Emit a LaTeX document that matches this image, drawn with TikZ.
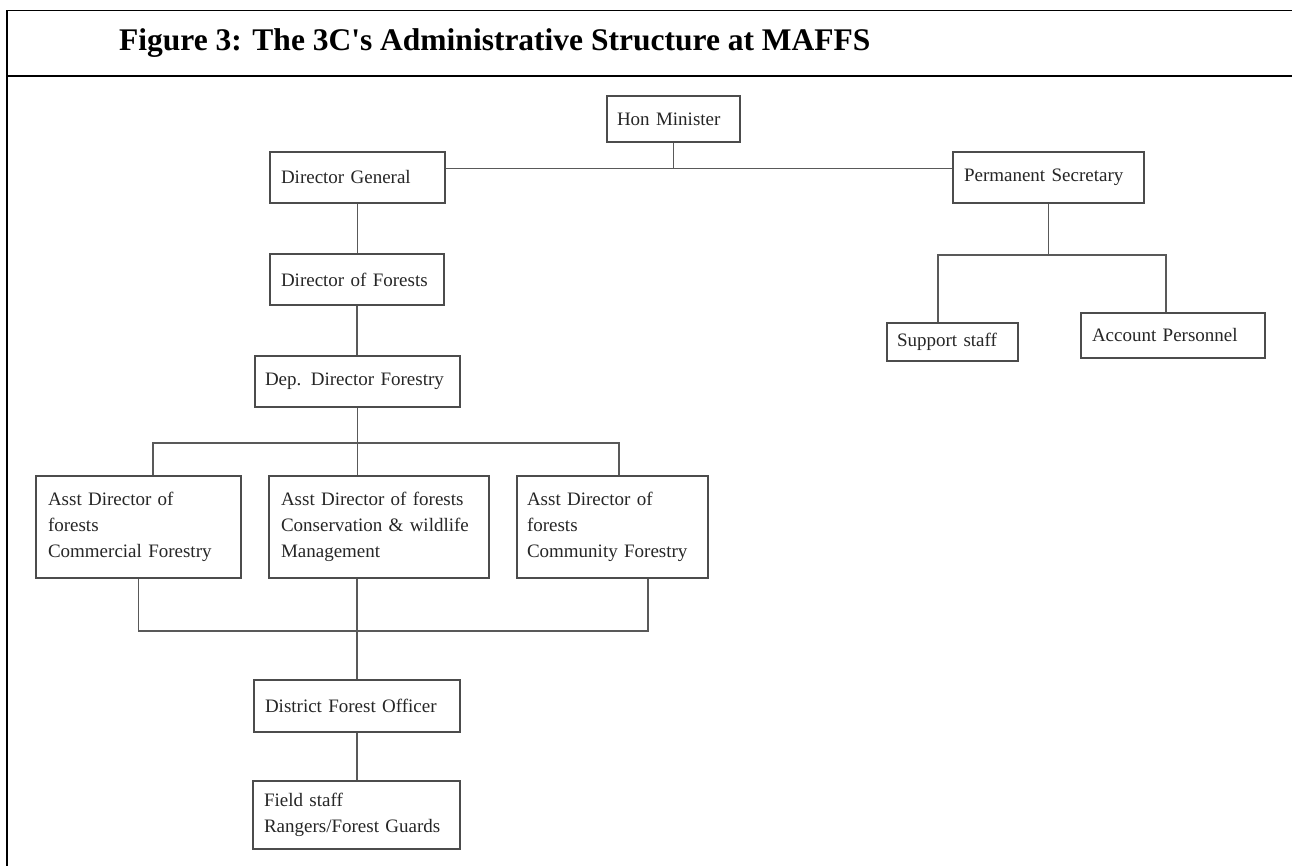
\documentclass[tikz,border=0pt]{standalone}
\usepackage{fontspec}
\setmainfont{Liberation Serif}
\newfontfamily\titlefont{Liberation Serif}
\begin{document}
\begin{tikzpicture}[x=1pt,y=1pt,
  orgbox/.style={draw=black!70, line width=1.3pt, inner sep=0pt, align=left,
    font=\fontsize{19}{26}\selectfont, text=black!85},
  conn/.style={draw=black!65, line width=1.2pt},
  frame/.style={draw=black, line cap=rect}]
\useasboundingbox[fill=white] (0,0) rectangle (1292,-866);
% frame
\draw[frame, line width=1pt] (7,-11) -- (1292,-11);
\draw[frame, line width=2pt] (7,-11) -- (7,-866);
\draw[frame, line width=2.2pt] (7,-76) -- (1292,-76);
\node[anchor=base west, inner sep=0pt, font=\titlefont\fontsize{31.5}{34}\selectfont\bfseries] (title) at (119,-51)
  {Figure 3: The 3C's Administrative Structure at MAFFS};
% boxes
\node[orgbox, minimum width=133pt, minimum height=46pt, text width=113pt] (hm) at (673.5,-119) {Hon Minister};
\node[orgbox, minimum width=175pt, minimum height=51pt, text width=153pt] (dg) at (357.5,-177.5) {Director General};
\node[orgbox, minimum width=191pt, minimum height=51pt, text width=169pt] (ps) at (1048.5,-177.5) {Permanent Secretary};
\node[orgbox, minimum width=174pt, minimum height=51pt, text width=152pt] (dof) at (357,-279.5) {Director of Forests};
\node[orgbox, minimum width=205pt, minimum height=51pt, text width=185pt] (ddf) at (357.5,-381.5) {Dep. Director Forestry};
\node[orgbox, minimum width=205pt, minimum height=102pt, text width=181pt] (a1) at (138.5,-527) {Asst Director of\\forests\\Commercial Forestry};
\node[orgbox, minimum width=220pt, minimum height=102pt, text width=196pt] (a2) at (379,-527) {Asst Director of forests\\Conservation \& wildlife\\Management};
\node[orgbox, minimum width=191pt, minimum height=102pt, text width=171pt] (a3) at (612.5,-527) {Asst Director of\\forests\\Community Forestry};
\node[orgbox, minimum width=206pt, minimum height=52pt, text width=184pt] (dfo) at (357,-706) {District Forest Officer};
\node[orgbox, minimum width=207pt, minimum height=68pt, text width=185pt] (fs) at (356.5,-815) {Field staff\\Rangers/Forest Guards};
\node[orgbox, minimum width=131pt, minimum height=38pt, text width=111pt] (ss) at (952.5,-342) {Support staff};
\node[orgbox, minimum width=184pt, minimum height=45pt, text width=162pt] (ap) at (1173,-335.5) {Account Personnel};
% junction coordinates
\coordinate (jt) at ([yshift=-26pt]hm.south);
\coordinate (jb) at (357,-443);
\coordinate (jl) at (357,-631);
\coordinate (jr) at (1047,-255);
\coordinate (ka) at ([xshift=14.5pt]a1.north);
\coordinate (kc) at ([xshift=6.5pt]a3.north);
\coordinate (kd) at ([xshift=35.5pt]a3.south);
\coordinate (ke) at ([xshift=-14.5pt]ss.north);
\coordinate (kf) at ([xshift=-7pt]ap.north);
% connectors
\draw[conn] (hm.south) -- (jt);
\draw[conn] (dg.east |- jt) -- (ps.west |- jt);
\draw[conn] (dg.south) -- (dg.south |- dof.north);
\draw[conn] (dof.south) -- (dof.south |- ddf.north);
\draw[conn] (ddf.south) -- (ddf.south |- a2.north);
\draw[conn] (ka) -- (ka |- jb) -- (kc |- jb) -- (kc);
\draw[conn] (a1.south) -- (a1.south |- jl) -- (kd |- jl) -- (kd);
\draw[conn] (dfo.north |- a2.south) -- (dfo.north);
\draw[conn] (dfo.south) -- (dfo.south |- fs.north);
\draw[conn] (ps.south) -- (ps.south |- jr);
\draw[conn] (ke) -- (ke |- jr) -- (kf |- jr) -- (kf);
\end{tikzpicture}
\end{document}
